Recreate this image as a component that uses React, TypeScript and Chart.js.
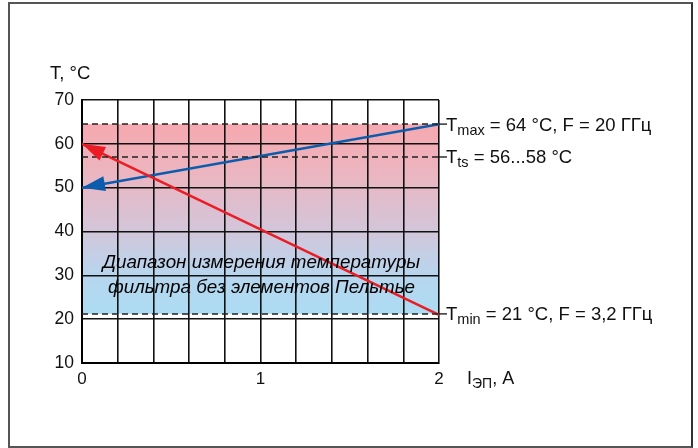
import React, { useEffect, useRef } from 'react';
import { Chart, registerables } from 'chart.js';
Chart.register(...registerables);

// ---- data ----
const redCurrent = [2, 0];
const redTemp = [21, 60];
const blueCurrent = [2, 0];
const blueTemp = [64.5, 50];
const tMaxLine = 64.5;
const tTsLine = 57;
const tMinLine = 21.2;
const xRange = [0, 2];
const yRange = [10, 70];
const xTickLabels = [0, 1, 2];
const annotations = [
  { value: tMaxLine, main: 'T', sub: 'max', rest: ' = 64 °C, F = 20 ГГц' },
  { value: tTsLine, main: 'T', sub: 'ts', rest: ' = 56...58 °C' },
  { value: tMinLine, main: 'T', sub: 'min', rest: ' = 21 °C, F = 3,2 ГГц' },
];
const bandText = ['Диапазон измерения температуры', 'фильтра без элементов Пельтье'];
const bandTextValues = [31.6, 25.9];
const yTitle = 'T, °C';
const xTitleMain = 'I';
const xTitleSub = 'ЭП';
const xTitleRest = ', A';

const FONT = '"Liberation Sans", Arial, sans-serif';

const bandPlugin = {
  id: 'band',
  beforeDraw(chart: any) {
    const { ctx, chartArea, scales } = chart;
    const yTop = scales.y.getPixelForValue(tMaxLine);
    const yBot = scales.y.getPixelForValue(tMinLine);
    const g = ctx.createLinearGradient(0, yTop, 0, yBot);
    g.addColorStop(0, '#f6a8af');
    g.addColorStop(0.25, '#ecb5bf');
    g.addColorStop(0.55, '#d4c5d9');
    g.addColorStop(0.8, '#b6d6ee');
    g.addColorStop(1, '#acdcf3');
    ctx.save();
    ctx.fillStyle = g;
    ctx.fillRect(chartArea.left, yTop, chartArea.right - chartArea.left, yBot - yTop);
    ctx.restore();
  },
};

const arrowPlugin = {
  id: 'arrows',
  afterDatasetsDraw(chart: any) {
    const { ctx } = chart;
    chart.data.datasets.forEach((ds: any, i: number) => {
      if (!ds.arrow) return;
      const meta = chart.getDatasetMeta(i);
      const p0 = meta.data[0];
      const p1 = meta.data[meta.data.length - 1];
      const ang = Math.atan2(p1.y - p0.y, p1.x - p0.x);
      const len = 23;
      const half = 7.5;
      const bx = p1.x - len * Math.cos(ang);
      const by = p1.y - len * Math.sin(ang);
      ctx.save();
      ctx.fillStyle = ds.borderColor;
      ctx.beginPath();
      ctx.moveTo(p1.x, p1.y);
      ctx.lineTo(bx + half * Math.sin(ang), by - half * Math.cos(ang));
      ctx.lineTo(bx - half * Math.sin(ang), by + half * Math.cos(ang));
      ctx.closePath();
      ctx.fill();
      ctx.restore();
    });
  },
};

function drawSubText(ctx: any, x: number, y: number, main: string, sub: string, rest: string, big: number, small: number) {
  ctx.font = `${big}px ${FONT}`;
  ctx.fillText(main, x, y);
  let cx = x + ctx.measureText(main).width;
  ctx.font = `${small}px ${FONT}`;
  ctx.fillText(sub, cx, y + 4);
  cx += ctx.measureText(sub).width;
  ctx.font = `${big}px ${FONT}`;
  ctx.fillText(rest, cx, y);
}

const textPlugin = {
  id: 'texts',
  afterDraw(chart: any) {
    const { ctx, chartArea, scales } = chart;
    ctx.save();
    ctx.fillStyle = '#111';
    ctx.textBaseline = 'alphabetic';
    ctx.textAlign = 'left';
    annotations.forEach((a) => {
      const y = scales.y.getPixelForValue(a.value);
      ctx.strokeStyle = '#111';
      ctx.lineWidth = 1.3;
      ctx.beginPath();
      ctx.moveTo(chartArea.right, y);
      ctx.lineTo(chartArea.right + 8, y);
      ctx.stroke();
      drawSubText(ctx, chartArea.right + 7, y + 6.5, a.main, a.sub, a.rest, 18.5, 14.5);
    });
    ctx.font = `18.5px ${FONT}`;
    ctx.fillText(yTitle, 50, 79);
    drawSubText(ctx, 467, 384, xTitleMain, xTitleSub, xTitleRest, 18, 14);
    ctx.textAlign = 'center';
    ctx.fillStyle = '#000';
    ctx.font = `italic 18.8px ${FONT}`;
    const cx = (chartArea.left + chartArea.right) / 2 + 1;
    bandText.forEach((t, i) => {
      ctx.fillText(t, cx, scales.y.getPixelForValue(bandTextValues[i]));
    });
    ctx.restore();
  },
};

export default function App() {
  const ref = useRef<HTMLCanvasElement>(null);
  useEffect(() => {
    if (!ref.current) return;
    const toPts = (xs: number[], ys: number[]) => xs.map((x, i) => ({ x, y: ys[i] }));
    const hline = (v: number) => xRange.map((x) => ({ x, y: v }));
    const dashed = (v: number) => ({
      data: hline(v),
      borderColor: '#222',
      borderWidth: 1.5,
      borderDash: [6, 4],
      pointRadius: 0,
      fill: false,
    });
    const chart = new Chart(ref.current, {
      type: 'line',
      data: {
        datasets: [
          dashed(tMaxLine),
          dashed(tTsLine),
          dashed(tMinLine),
          {
            data: toPts(redCurrent, redTemp),
            borderColor: '#ec1c24',
            borderWidth: 2.5,
            pointRadius: 0,
            fill: false,
            arrow: true,
          } as any,
          {
            data: toPts(blueCurrent, blueTemp),
            borderColor: '#0b5cad',
            borderWidth: 2.5,
            pointRadius: 0,
            fill: false,
            arrow: true,
          } as any,
        ],
      },
      options: {
        animation: false,
        responsive: false,
        events: [],
        layout: { padding: { left: 30, right: 259, top: 100, bottom: 55 } },
        plugins: { legend: { display: false }, tooltip: { enabled: false } },
        scales: {
          x: {
            type: 'linear',
            min: xRange[0],
            max: xRange[1],
            afterFit: (a: any) => { a.height = 30; },
            ticks: {
              stepSize: 0.2,
              autoSkip: false,
              maxRotation: 0,
              padding: 6,
              color: '#111',
              font: { family: FONT, size: 17 },
              callback: (v: any) => {
                const n = Number(v);
                const m = xTickLabels.find((t) => Math.abs(t - n) < 1e-6);
                return m === undefined ? '' : String(m);
              },
            },
            grid: { color: '#111', lineWidth: 1.6, drawTicks: false },
            border: { color: '#000', width: 2 },
          },
          y: {
            type: 'linear',
            min: yRange[0],
            max: yRange[1],
            afterFit: (a: any) => { a.width = 52; },
            ticks: {
              stepSize: 10,
              padding: 8,
              color: '#111',
              font: { family: FONT, size: 17.5 },
            },
            grid: { color: '#111', lineWidth: 1.6, drawTicks: false },
            border: { color: '#000', width: 2 },
          },
        },
      },
      plugins: [bandPlugin, arrowPlugin, textPlugin],
    });
    return () => chart.destroy();
  }, []);
  return (
    <div style={{ position: 'absolute', left: 0, top: 0, width: 698, height: 448, background: '#fff' }}>
      <div
        style={{
          position: 'absolute',
          left: 8,
          top: 2,
          width: 685,
          height: 446,
          boxSizing: 'border-box',
          border: '2px solid #555',
          borderRightColor: '#333',
        }}
      />
      <canvas ref={ref} width={698} height={448} style={{ position: 'absolute', left: 0, top: 0 }} />
    </div>
  );
}
